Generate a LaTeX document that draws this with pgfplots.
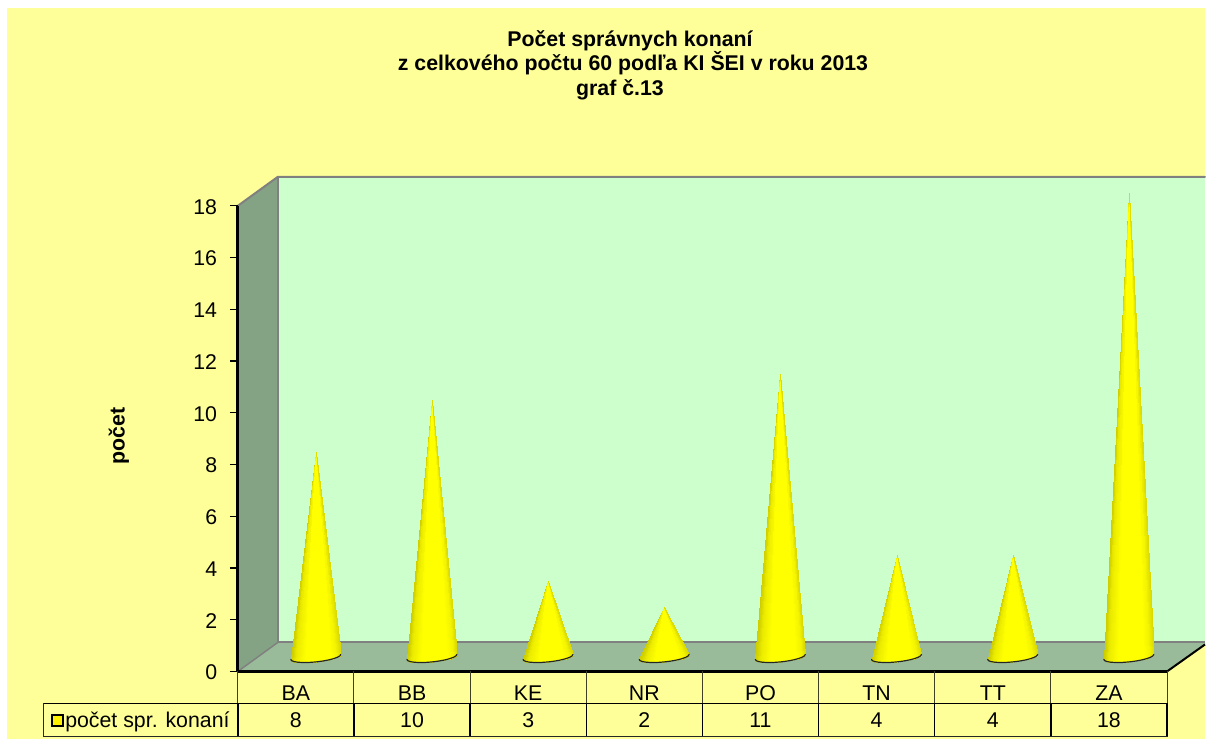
\documentclass[border=0pt]{standalone}
\usepackage{fontspec}
\setmainfont{Liberation Sans}
\usepackage{pgfplots}
\usepackage{pgfplotstable}
\pgfplotsset{compat=1.18}
\definecolor{pagey}{RGB}{255,255,153}
\definecolor{wallb}{RGB}{204,255,204}
\definecolor{walll}{RGB}{132,162,132}
\definecolor{floorc}{RGB}{153,187,153}
\definecolor{edgeg}{RGB}{128,128,128}
\pgfplotstableread{
dx dy h c
-25 -2.5 0 0
0 0 1 .008
-24.15 -3.71 0 .017
-24.15 -3.71 0 .017
0 0 1 .042
-21.65 -4.67 0 .067
-21.65 -4.67 0 .067
0 0 1 .106
-17.68 -5.30 0 .146
-17.68 -5.30 0 .146
0 0 1 .198
-12.5 -5.58 0 .25
-12.5 -5.58 0 .25
0 0 1 .31
-6.47 -5.48 0 .371
-6.47 -5.48 0 .371
0 0 1 .435
0 -5 0 .5
0 -5 0 .5
0 0 1 .565
6.47 -4.18 0 .629
6.47 -4.18 0 .629
0 0 1 .69
12.5 -3.08 0 .75
12.5 -3.08 0 .75
0 0 1 .802
17.68 -1.77 0 .854
17.68 -1.77 0 .854
0 0 1 .894
21.65 -.335 0 .933
21.65 -.335 0 .933
0 0 1 .958
24.15 1.12 0 .983
24.15 1.12 0 .983
0 0 1 .992
25 2.5 0 1
}\conetable
\pgfplotstableread{
dx dy
-25 -2.5
-24.15 -3.71
-21.65 -4.67
-17.68 -5.30
-12.5 -5.58
-6.47 -5.48
0 -5
6.47 -4.18
12.5 -3.08
17.68 -1.77
21.65 -.335
24.15 1.12
25 2.5
}\arctable
% #1 = category position, #2 = value
\newcommand\cone[2]{%
  \addplot[patch,shader=interp,forget plot,point meta=\thisrow{c}] table[
    x expr={#1+0.671+\thisrow{dx}/116.25},
    y expr={\thisrow{h}*(#2+0.5)+(1-\thisrow{h})*(14.5+\thisrow{dy})/25.89}] {\conetable};
  \addplot[black!85,line width=0.9pt,line cap=round,forget plot,no markers] table[
    x expr={#1+0.671+\thisrow{dx}/116.25},
    y expr={(14.5+\thisrow{dy})/25.89}] {\arctable};
}
\newcommand\fs{\fontsize{16}{18.4}\selectfont}
\begin{document}
\begin{tikzpicture}
\begin{scope}[x=0.75pt,y=-0.75pt,xshift=-178.5pt,yshift=504pt]
  \fill[white] (0,0) rectangle (1206,740);
  \fill[pagey] (7,8) rectangle (1206,740);
  \fill[wallb] (278,177) rectangle (1206,643);
  \fill[walll] (238,206) -- (278,177) -- (278,643) -- (238,672) -- cycle;
  \fill[floorc] (238,672) -- (278,643) -- (1206,643) -- (1206,645) -- (1168,672) -- cycle;
  \draw[edgeg,line width=1.5pt,line cap=round] (238,206) -- (278,177) -- (1206,177);
  \draw[edgeg,line width=1.1pt] (278,177) -- (278,643);
  \draw[edgeg,line width=1.5pt] (278,643) -- (1206,643);
  \draw[edgeg,line width=1.1pt] (278,643) -- (238,672);
  \draw[black,line width=1.5pt] (1168,672) -- (1206,645);
\end{scope}
\begin{axis}[
  scale only axis,
  width=697.5pt,height=349.5pt,
  xmin=0,xmax=8,ymin=0,ymax=18,
  clip=false,
  axis lines*=left,
  axis line style={-,black,line width=2pt},
  xtick={0.5,1.5,2.5,3.5,4.5,5.5,6.5,7.5},
  xticklabels={BA,BB,KE,NR,PO,TN,TT,ZA},
  x tick style={draw=none},
  ytick={0,2,...,18},
  y tick style={black,line width=1pt},
  tick align=outside,
  major tick length=6pt,
  /pgf/number format/assume math mode=true,
  tick label style={font=\fs},
  x tick label style={yshift=-1pt},
  y tick label style={xshift=-6pt,yshift=-0.75pt},
  ylabel={\bfseries počet},
  ylabel style={font=\fs,at={(axis description cs:-0.128,0.505)},anchor=center},
  title={\bfseries Počet správnych konaní\hspace*{4.5pt}\\\bfseries z celkového počtu 60 podľa KI ŠEI v roku 2013\\\bfseries graf č.13\hspace*{19.5pt}},
  title style={font=\fs,align=center,at={(axis description cs:0.4253,1.2854)},anchor=center},
  colormap={conemap}{rgb255(0pt)=(205,205,0); rgb255(10pt)=(235,235,0); rgb255(30pt)=(255,255,0); rgb255(80pt)=(255,255,0); rgb255(92pt)=(243,243,0); rgb255(100pt)=(218,218,0)},
  point meta min=0,point meta max=1,
  legend style={at={(axis cs:-1.60,-1.893)},anchor=west,draw=none,fill=none,font=\fs,inner sep=0pt,outer sep=0pt},
]
\addlegendimage{only marks,mark=square*,mark size=4pt,mark options={fill=yellow,draw=black,line width=1.5pt}}
\addlegendentry{počet spr. konaní}
\cone{0}{8}
\cone{1}{10}
\cone{2}{3}
\cone{3}{2}
\cone{4}{11}
\cone{5}{4}
\cone{6}{4}
\cone{7}{18}
\node[font=\fs] at (axis cs:0.5,-1.893) {8};
\node[font=\fs] at (axis cs:1.5,-1.893) {10};
\node[font=\fs] at (axis cs:2.5,-1.893) {3};
\node[font=\fs] at (axis cs:3.5,-1.893) {2};
\node[font=\fs] at (axis cs:4.5,-1.893) {11};
\node[font=\fs] at (axis cs:5.5,-1.893) {4};
\node[font=\fs] at (axis cs:6.5,-1.893) {4};
\node[font=\fs] at (axis cs:7.5,-1.893) {18};
\end{axis}
\begin{scope}[x=0.75pt,y=-0.75pt,xshift=-178.5pt,yshift=504pt]
  \draw[black!85,line width=0.75pt] (44,704) rectangle (1168,737);
  \draw[black,line width=1.2pt] (44,704) -- (1168,704);
  \foreach \x in {238,354.25,470.5,586.75,703,819.25,935.5,1051.75,1168} {
    \draw[black!75!pagey,line width=0.8pt] (\x,672) -- (\x,704);
    \draw[black,line width=1.1pt] (\x,704) -- (\x,737);
  }
\end{scope}
\end{tikzpicture}
\end{document}
